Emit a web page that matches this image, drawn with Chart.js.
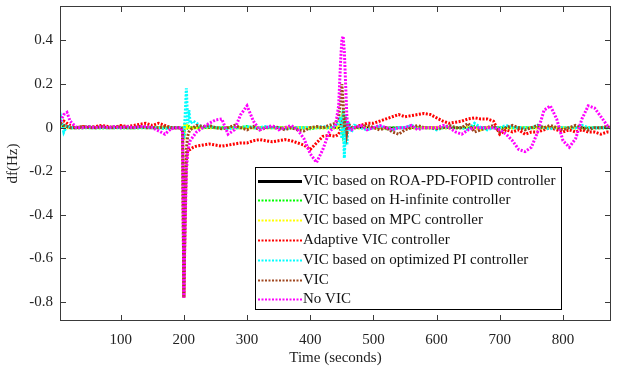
<!DOCTYPE html>
<html>
<head>
<meta charset="utf-8">
<script src="https://cdn.jsdelivr.net/npm/chart.js@4.4.1/dist/chart.umd.min.js"></script>
<style>
  html, body { margin: 0; padding: 0; background: #fff; }
</style>
</head>
<body>
<canvas id="freqChart" width="618" height="373"></canvas>
<script>
// time axis (seconds), denser around the two load steps
const time = [0,5,10,15,20,30,40,50,60,70,80,90,100,110,120,130,140,150,160,170,180,190,
  195,198,200,202,204,206,208,210,215,
  220,230,240,250,260,270,280,290,300,310,320,330,340,350,360,370,380,390,400,410,420,430,440,
  445,448,450,452,454,456,458,460,465,
  470,480,490,500,510,520,530,540,550,560,570,580,590,600,610,620,630,640,650,660,
  670,680,690,700,710,720,730,740,750,760,770,780,790,800,810,820,830,840,850,860,870,875];

// df (Hz) for each controller
const roaPdFopid = [0,0.005,0.01,0.005,0, 0,0,0,0,0, 0,0,0,0,0, 0,0,0,0,0, 0,0,
  0,0,-0.03,0.01,0,0.005,0,0,0,
  0,0,0,0,0, 0,0,0,0,0, 0,0,0,0,0, 0,0,0,0,0, 0,0,0,
  0,0.01,0.02,-0.01,0.01,0,0,0,0,
  0,0,0,0,0, 0,0,0,0,0, 0,0,0,0,0, 0,0,0,0,0, 0,0,0,0,0, 0,0,0,0,0, 0,0,0,0,0, 0,0,0,0,0, 0,0];
const hInfinite = [0.01,0.015,0.01,0.005,0, 0,0,0.005,0,0, 0,0.005,0,0,0, 0,0.005,0,0,0, 0,0,
  0,0,-0.05,0.02,0.01,0,0.005,0,0,
  0,0,0.005,0,0, 0,0,0,0.005,0, 0,0,0,0,0, 0,0,0,-0.005,0, 0,0,0,
  0,0.02,0.04,-0.02,0.01,-0.01,0,0,0,
  0,0,0,0,0, -0.005,0,0,0,0, 0,0,0,0,0, 0,0,0,0,0.005, 0,0,0,0,0, 0,0,0,0,0, 0,0,0,0,0, 0,0,0,0,0, 0,0];
const mpc = [0.02,0.01,0.005,0,0, 0,0,0,0,0, 0,0,0,0,0, 0,0,0,0,0, 0,0,
  0,0,-0.06,0.02,0,0.005,0,0,0,
  0,0,0,0,0, 0,0,0,0,0, 0,0,0,0,0, 0,0,0,0,0, 0,0,0,
  0,0.03,0.05,-0.03,0.02,-0.01,0,0,0,
  0,0,0,0,0, 0,-0.01,0,0,0, 0,0,0,0,0, 0,0,0,0,0, -0.01,0,0,0,0, 0,0,0,0,0, 0,0,0,0,0, 0,0,0,0,0, 0,0];
const adaptive = [0.01,0.02,0.03,0.02,0.01, 0,0.005,0,0.005,0.01, 0.005,0,0.01,0.005,0.01, 0.015,0.02,0.01,0.02,0.01, 0,0,
  0,-0.02,-0.78,-0.4,-0.15,-0.11,-0.1,-0.1,-0.09,
  -0.085,-0.08,-0.075,-0.08,-0.085, -0.08,-0.075,-0.07,-0.07,-0.06, -0.055,-0.06,-0.065,-0.06,-0.055, -0.06,-0.07,-0.08,-0.1,-0.07, -0.04,-0.035,-0.04,
  -0.03,-0.01,0.02,0.01,0,-0.01,0,0.01,0,
  0.005,0.01,0.02,0.02,0.03, 0.04,0.05,0.06,0.05,0.055, 0.06,0.065,0.06,0.045,0.03, 0.02,0.025,0.03,0.04,0.045,
  0.04,0.04,0.03,-0.03,-0.01, -0.02,-0.01,-0.03,-0.02,-0.02, -0.01,0,-0.01,-0.02,-0.01, -0.02,-0.01,-0.02,-0.02,-0.03, -0.02,-0.02];
const optimizedPi = [-0.03,0.05,-0.02,0.01,0, 0,0,0,0,0, 0,0,0,0,0, 0,0,0,0,-0.005, 0,0,
  0,0,-0.05,0.05,0.18,0.02,0.08,0.02,0.03,
  0.02,0,0.005,0,0, -0.005,0,0,0.005,0, 0,0.005,0,0,-0.005, 0,0,0,0,0, 0.005,0,0.01,
  0.02,0.05,-0.05,0.08,-0.14,0.06,-0.08,0.03,-0.02,
  0.01,0,-0.01,0,0.005, 0,-0.01,0,0,0.01, 0,0,0,-0.01,0, 0.005,0,0,-0.01,0.02,
  0,-0.01,0,0,0.01, 0,0,0,0,0.01, 0,-0.005,0,0,0, 0,0.01,0,0,0, 0,0];
const vic = [0.01,0.02,0.01,0.005,0, 0,0.005,0,0,0.005, 0,0,0.005,0,0, 0.005,0,0,0,0.005, 0,0,
  0,-0.01,-0.78,-0.4,-0.1,-0.04,-0.02,-0.01,0,
  0.01,0.005,0.01,0,-0.005, 0,0.01,0,-0.01,0.005, -0.01,0,0.005,0,-0.01, 0,-0.01,-0.015,0,0.005, 0,0.01,0.02,
  0.05,0.12,0.2,0.12,0,0.05,-0.02,0.02,0,
  0,0.005,0.01,0,-0.01, 0,-0.02,-0.03,-0.01,0, 0.01,0,0,-0.005,0, 0.01,0,0,0.02,-0.02,
  -0.01,0,0.01,-0.02,0, 0.01,0,-0.01,0,0.01, 0,0.01,0,-0.01,0, 0.01,0,-0.01,0,0, 0.005,0];
const noVic = [0,0.03,0.06,0.07,0.03, 0,0,0.005,0,0.005, 0,0.005,0,0.005,0, 0.005,0.005,0,-0.015,-0.03, -0.005,0,
  0,-0.02,-0.78,-0.45,-0.2,-0.12,-0.08,-0.06,-0.04,
  -0.02,0,0.02,0.035,0.04, -0.03,-0.01,0.06,0.1,0.03, -0.01,0,0.01,-0.01,0, 0.01,-0.01,-0.05,-0.12,-0.16, -0.1,-0.02,0.01,
  0.1,0.3,0.4,0.42,0.35,0.2,0.05,0,-0.01,
  0,0.01,-0.01,0,0.01, 0,-0.01,0,0,0.01, -0.01,0,0,0,0.01, 0,-0.02,-0.03,-0.01,0,
  0,0,0,-0.01,-0.03, -0.06,-0.1,-0.11,-0.09,-0.02, 0.08,0.1,0.04,-0.06,-0.09, -0.05,0.04,0.1,0.09,0.05, 0.01,0];

const xTicks = [100, 200, 300, 400, 500, 600, 700, 800];
const yTicks = [-0.8, -0.6, -0.4, -0.2, 0, 0.2, 0.4];

const series = [
  { label: 'VIC based on ROA-PD-FOPID controller', values: roaPdFopid, color: '#000000', dash: [] },
  { label: 'VIC based on H-infinite controller', values: hInfinite, color: '#00ff00', dash: [2, 1.5] },
  { label: 'VIC based on MPC controller', values: mpc, color: '#ffff00', dash: [2, 1.5] },
  { label: 'Adaptive VIC controller', values: adaptive, color: '#ff0000', dash: [2, 1.5] },
  { label: 'VIC based on optimized PI controller', values: optimizedPi, color: '#00ffff', dash: [2, 1.5] },
  { label: 'VIC', values: vic, color: '#a0461e', dash: [2, 1.5] },
  { label: 'No VIC', values: noVic, color: '#ff00ff', dash: [2, 1.5] }
];

const serif = "'Liberation Serif', 'Times New Roman', serif";

// box around the plot with inward ticks on all sides
const boxTicks = {
  id: 'boxTicks',
  afterDatasetsDraw(chart) {
    const { ctx, chartArea: a, scales: { x, y } } = chart;
    ctx.save();
    ctx.strokeStyle = '#3a3a3a';
    ctx.lineWidth = 1;
    ctx.strokeRect(a.left + 0.5, a.top + 0.5, a.right - a.left - 1, a.bottom - a.top - 1);
    ctx.beginPath();
    xTicks.forEach(v => {
      const px = Math.round(x.getPixelForValue(v)) + 0.5;
      ctx.moveTo(px, a.bottom); ctx.lineTo(px, a.bottom - 6);
      ctx.moveTo(px, a.top); ctx.lineTo(px, a.top + 6);
    });
    yTicks.forEach(v => {
      const py = Math.round(y.getPixelForValue(v)) + 0.5;
      ctx.moveTo(a.left, py); ctx.lineTo(a.left + 6, py);
      ctx.moveTo(a.right, py); ctx.lineTo(a.right - 6, py);
    });
    ctx.stroke();
    ctx.restore();
  }
};

// legend box inside the axes, like the original figure
const boxLegend = {
  id: 'boxLegend',
  afterDraw(chart) {
    const ctx = chart.ctx;
    const left = 255, top = 167, right = 562, bottom = 310;
    ctx.save();
    ctx.fillStyle = '#fff';
    ctx.fillRect(left, top, right - left, bottom - top);
    ctx.strokeStyle = '#000';
    ctx.lineWidth = 1;
    ctx.strokeRect(left + 0.5, top + 0.5, right - left - 1, bottom - top - 1);
    ctx.font = '15px ' + serif;
    ctx.textBaseline = 'middle';
    ctx.fillStyle = '#111';
    series.forEach((s, i) => {
      const cy = Math.round(180.7 + i * 19.77) + 0.5;
      ctx.beginPath();
      ctx.strokeStyle = s.color;
      ctx.lineWidth = s.dash.length ? 2 : 3;
      ctx.setLineDash(s.dash);
      ctx.moveTo(258, cy);
      ctx.lineTo(302, cy);
      ctx.stroke();
      ctx.setLineDash([]);
      ctx.fillText(s.label, 303, cy);
    });
    ctx.restore();
  }
};

new Chart(document.getElementById('freqChart').getContext('2d'), {
  type: 'line',
  data: {
    datasets: series.map((s, i) => ({
      label: s.label,
      data: time.map((t, k) => ({ x: t, y: s.values[k] })),
      borderColor: s.color,
      borderWidth: s.dash.length ? 3 : 2,
      borderDash: s.dash,
      borderCapStyle: 'butt',
      pointRadius: 0,
      tension: 0,
      fill: false,
      order: series.length - i
    }))
  },
  options: {
    responsive: false,
    animation: false,
    layout: { padding: { top: 6, right: 7, left: 0, bottom: 0 } },
    plugins: { legend: { display: false }, tooltip: { enabled: false } },
    scales: {
      x: {
        type: 'linear',
        min: 4,
        max: 876,
        afterBuildTicks: s => { s.ticks = xTicks.map(v => ({ value: v })); },
        afterFit: s => { s.height = 52; s.paddingLeft = 0; s.paddingRight = 0; },
        grid: { display: false, drawTicks: false },
        border: { display: false },
        ticks: { color: '#222', font: { family: serif, size: 15 }, padding: 10, maxRotation: 0 },
        title: { display: true, text: 'Time (seconds)', color: '#222', font: { family: serif, size: 15 }, padding: { top: 0, bottom: 6 } }
      },
      y: {
        min: -0.887,
        max: 0.558,
        afterBuildTicks: s => { s.ticks = yTicks.map(v => ({ value: v })); },
        afterFit: s => { s.width = 60; s.paddingTop = 0; s.paddingBottom = 0; },
        grid: { display: false, drawTicks: false },
        border: { display: false },
        ticks: {
          color: '#222',
          font: { family: serif, size: 15 },
          padding: 7,
          callback: v => (v === 0 ? '0' : v.toFixed(1))
        },
        title: { display: true, text: 'df(Hz)', color: '#222', font: { family: serif, size: 15 }, padding: { top: 4, bottom: 0 } }
      }
    }
  },
  plugins: [boxTicks, boxLegend]
});
</script>
</body>
</html>
